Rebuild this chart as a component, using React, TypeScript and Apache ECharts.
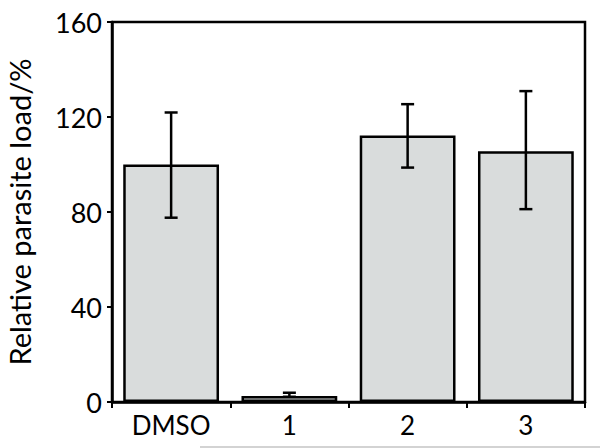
import React, { useEffect, useRef } from "react";
import * as echarts from "echarts";

const categories = ["DMSO", "1", "2", "3"];
const means = [100, 2.5, 112.2, 105.6];
const errLow = [77.6, 2.2, 98.7, 81.2];
const errHigh = [121.9, 3.9, 125.4, 130.9];
const yTicks = { min: 0, max: 160, interval: 40 };
const yTitle = "Relative parasite load/%";

const FONT = "Lato";

export default function App() {
  const ref = useRef<HTMLDivElement>(null);
  useEffect(() => {
    if (!ref.current) return;
    const chart = echarts.init(ref.current, null, { renderer: "svg" });
    const errData = categories.map((c, i) => [i, errLow[i], errHigh[i]]);
    chart.setOption({
      animation: false,
      grid: {
        left: 112,
        right: 15,
        top: 22,
        bottom: 46,
        outerBoundsMode: "none",
        containLabel: false,
        show: true,
        borderColor: "#000",
        borderWidth: 2.5,
        backgroundColor: "transparent",
      },
      xAxis: {
        type: "category",
        data: categories,
        axisLine: { lineStyle: { color: "#000", width: 2.5 } },
        axisTick: { show: true, length: 6, lineStyle: { color: "#000", width: 2 } },
        axisLabel: {
          color: "#000",
          fontFamily: FONT,
          fontSize: 26,
          margin: 10,
        },
      },
      yAxis: {
        type: "value",
        min: yTicks.min,
        max: yTicks.max,
        interval: yTicks.interval,
        name: yTitle,
        nameLocation: "middle",
        nameGap: 78,
        nameTextStyle: { color: "#000", fontFamily: FONT, fontSize: 29 },
        splitLine: { show: false },
        axisLine: { show: true, lineStyle: { color: "#000", width: 2.5 } },
        axisTick: { show: true, length: 5, lineStyle: { color: "#000", width: 2 } },
        axisLabel: {
          color: "#000",
          fontFamily: FONT,
          fontSize: 27,
          margin: 10,
        },
      },
      series: [
        {
          type: "bar",
          data: means,
          barCategoryGap: "19%",
          itemStyle: { color: "#d9dcdc", borderColor: "#000", borderWidth: 2.5 },
        },
        {
          type: "custom",
          data: errData,
          z: 10,
          renderItem: (params: any, api: any) => {
            const x = api.value(0);
            const lo = api.coord([x, api.value(1)]);
            const hi = api.coord([x, api.value(2)]);
            const half = 6.5;
            const style = { stroke: "#000", lineWidth: 2.5, fill: "none" };
            return {
              type: "group",
              children: [
                { type: "line", shape: { x1: lo[0], y1: lo[1], x2: hi[0], y2: hi[1] }, style },
                { type: "line", shape: { x1: lo[0] - half, y1: lo[1], x2: lo[0] + half, y2: lo[1] }, style },
                { type: "line", shape: { x1: hi[0] - half, y1: hi[1], x2: hi[0] + half, y2: hi[1] }, style },
              ],
            };
          },
        },
      ],
      graphic: [
        {
          type: "line",
          shape: { x1: 200, y1: 447, x2: 600, y2: 447 },
          style: { stroke: "#c4c4c4", lineWidth: 1.5 },
        },
      ],
    });
    return () => chart.dispose();
  }, []);
  return <div ref={ref} style={{ width: 600, height: 448, position: "absolute", left: 0, top: 0 }} />;
}
